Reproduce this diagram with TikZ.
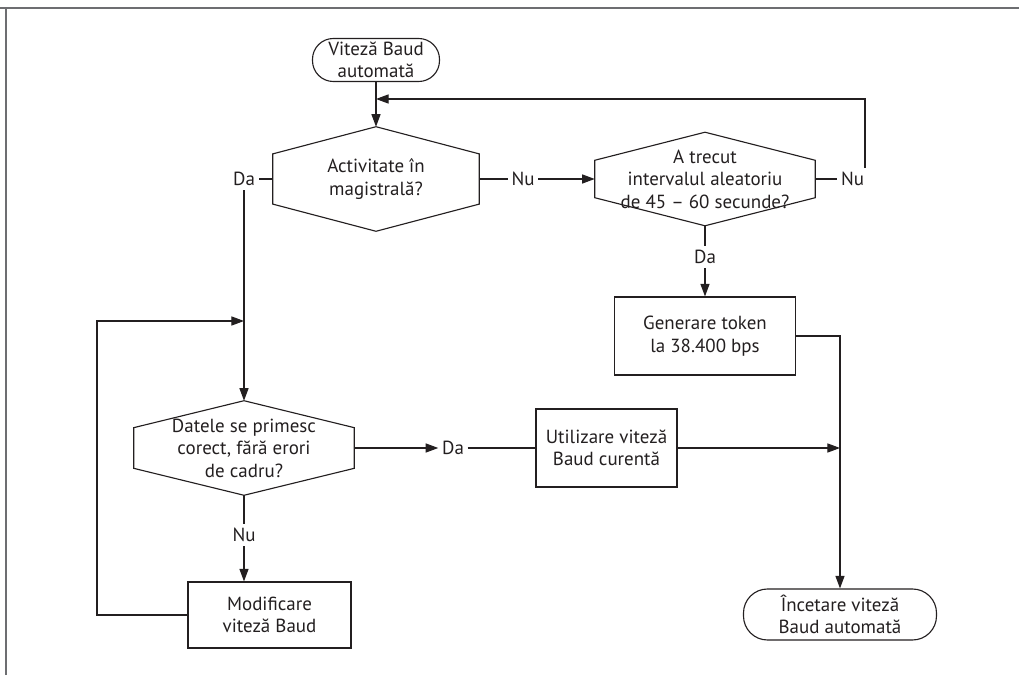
\documentclass[tikz,border=0pt]{standalone}
\usepackage{fontspec}
\setmainfont{PT Sans}
\usetikzlibrary{arrows.meta, positioning, calc}
\definecolor{fline}{HTML}{231F20}
\definecolor{fframe}{HTML}{6D6E71}
% hexagon drawn round a decision node; #2 = how far down the side corners sit
\newcommand{\hexframe}[2]{%
  \draw[line] (#1.north) -- ($(#1.north east)!#2!(#1.south east)$)
    -- ($(#1.south east)!#2!(#1.north east)$) -- (#1.south)
    -- ($(#1.south west)!#2!(#1.north west)$)
    -- ($(#1.north west)!#2!(#1.south west)$) -- cycle;
}

\begin{document}
\begin{tikzpicture}[x=1cm, y=1cm,
  line/.style={draw=fline, line width=0.8pt},
  arrow/.style={line, -{Triangle[length=9pt, width=6.5pt]}},
  txt/.style={font=\fontsize{13.5}{16}\selectfont, text=fline, align=center},
  terminal/.style={txt, line, rounded corners=0.52cm, inner sep=0pt},
  process/.style={txt, line, inner sep=0pt},
  decision/.style={txt, inner sep=0pt},
  lbl/.style={txt, inner xsep=2.5pt, inner ysep=3pt}]

  \useasboundingbox (0,0) rectangle (25.475,16.875);

  %% frame
  \draw[fframe, line width=1pt] (0.15,0) -- (0.15,16.675) (0,16.675) -- (25.475,16.675);

  %% nodes
  \node[terminal, minimum width=3.175cm, minimum height=1.075cm] (start) at (9.4,15.375)
    {Viteză Baud\\automată};
  \node[decision, minimum width=5.15cm, minimum height=2.6cm] (act) at (9.4,12.4)
    {Activitate în\\magistrală?};
  \node[decision, minimum width=5.5cm, minimum height=2.325cm] (timer) at (17.625,12.4)
    {A trecut\\intervalul aleatoriu\\de 45 – 60 secunde?};
  \node[process, minimum width=4.525cm, minimum height=1.95cm] (token) at (17.625,8.475)
    {Generare token\\la 38.400 bps};
  \node[decision, minimum width=5.5cm, minimum height=2.35cm] (data) at (6.1,5.675)
    {Datele se primesc\\corect, fără erori\\de cadru?};
  \node[process, minimum width=3.525cm, minimum height=1.95cm] (use) at (15.1625,5.675)
    {Utilizare viteză\\Baud curentă};
  \node[process, minimum width=4.075cm, minimum height=1.65cm] (mod) at (6.7375,1.5)
    {Modificare\\viteză Baud};
  \node[terminal, minimum width=4.825cm, minimum height=1.275cm, rounded corners=0.6cm] (endt) at (21.0,1.5125)
    {Încetare viteză\\Baud automată};

  \hexframe{act}{0.26}
  \hexframe{timer}{0.30}
  \hexframe{data}{0.285}

  %% branch labels
  \node[lbl] (da1) at (6.1,12.4) {Da};
  \node[lbl] (nu1) at (13.075,12.4) {Nu};
  \node[lbl] (nu2) at (21.3125,12.4) {Nu};
  \node[lbl] (da2) at (17.625,10.45) {Da};
  \node[lbl] (da3) at (11.325,5.675) {Da};
  \node[lbl] (nu3) at (6.1,3.5) {Nu};

  \coordinate (join1) at (9.4,14.4);
  \coordinate (join2) at (6.1,8.85);
  \coordinate (loopL) at (2.425,8.85);
  \coordinate (merge) at (endt.north |- use.east);

  %% connectors
  \draw[arrow] (start) -- (act);
  \draw[line] (act.west) -- (da1);
  \draw[arrow] (da1) -- (data);
  \draw[line] (act.east) -- (nu1);
  \draw[arrow] (nu1) -- (timer.west);
  \draw[line] (timer.east) -- (nu2);
  \draw[arrow] ([xshift=-2pt]nu2.north east) |- (join1);
  \draw[line] (timer.south) -- (da2);
  \draw[arrow] (da2) -- (token);
  \draw[arrow] (token.east) -| (endt.north);
  \draw[arrow] (use.east) -- (merge);
  \draw[arrow] (data.east) -- (da3);
  \draw[line] (da3) -- (use.west);
  \draw[line] (data.south) -- (nu3);
  \draw[arrow] (nu3) -- (nu3 |- mod.north);
  \draw[arrow] (mod.west) -| (loopL) -- (join2);

\end{tikzpicture}
\end{document}
